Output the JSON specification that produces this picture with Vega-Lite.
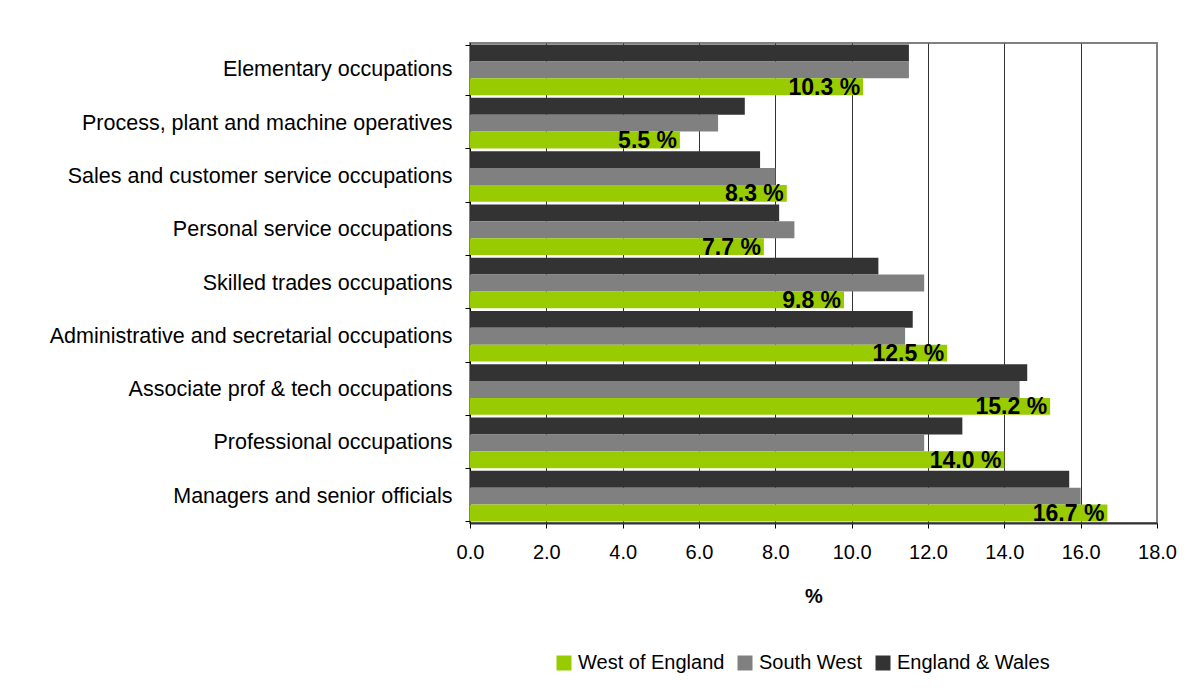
{
  "$schema": "https://vega.github.io/schema/vega-lite/v6.json",
  "autosize": {"type": "none"},
  "width": 687,
  "height": 480,
  "padding": {"left": 470, "top": 43, "right": 39, "bottom": 167},
  "background": "white",
  "config": {
    "font": "Liberation Sans",
    "view": {"stroke": "#808080", "strokeWidth": 2}
  },
  "data": {
    "values": [
      {"occupation": "Elementary occupations", "area": "England & Wales", "value": 11.5},
      {"occupation": "Elementary occupations", "area": "South West", "value": 11.5},
      {"occupation": "Elementary occupations", "area": "West of England", "value": 10.3},
      {"occupation": "Process, plant and machine operatives", "area": "England & Wales", "value": 7.2},
      {"occupation": "Process, plant and machine operatives", "area": "South West", "value": 6.5},
      {"occupation": "Process, plant and machine operatives", "area": "West of England", "value": 5.5},
      {"occupation": "Sales and customer service occupations", "area": "England & Wales", "value": 7.6},
      {"occupation": "Sales and customer service occupations", "area": "South West", "value": 8.0},
      {"occupation": "Sales and customer service occupations", "area": "West of England", "value": 8.3},
      {"occupation": "Personal service occupations", "area": "England & Wales", "value": 8.1},
      {"occupation": "Personal service occupations", "area": "South West", "value": 8.5},
      {"occupation": "Personal service occupations", "area": "West of England", "value": 7.7},
      {"occupation": "Skilled trades occupations", "area": "England & Wales", "value": 10.7},
      {"occupation": "Skilled trades occupations", "area": "South West", "value": 11.9},
      {"occupation": "Skilled trades occupations", "area": "West of England", "value": 9.8},
      {"occupation": "Administrative and secretarial occupations", "area": "England & Wales", "value": 11.6},
      {"occupation": "Administrative and secretarial occupations", "area": "South West", "value": 11.4},
      {"occupation": "Administrative and secretarial occupations", "area": "West of England", "value": 12.5},
      {"occupation": "Associate prof & tech occupations", "area": "England & Wales", "value": 14.6},
      {"occupation": "Associate prof & tech occupations", "area": "South West", "value": 14.4},
      {"occupation": "Associate prof & tech occupations", "area": "West of England", "value": 15.2},
      {"occupation": "Professional occupations", "area": "England & Wales", "value": 12.9},
      {"occupation": "Professional occupations", "area": "South West", "value": 11.9},
      {"occupation": "Professional occupations", "area": "West of England", "value": 14.0},
      {"occupation": "Managers and senior officials", "area": "England & Wales", "value": 15.7},
      {"occupation": "Managers and senior officials", "area": "South West", "value": 16.0},
      {"occupation": "Managers and senior officials", "area": "West of England", "value": 16.7}
    ]
  },
  "encoding": {
    "y": {
      "field": "occupation",
      "type": "nominal",
      "sort": null,
      "scale": {"paddingInner": 0.05, "paddingOuter": 0.03},
      "axis": {
        "title": null,
        "tickBand": "extent",
        "tickSize": 5,
        "tickColor": "#000000",
        "domainColor": "#000000",
        "domainWidth": 1,
        "labelFontSize": 21.5,
        "labelColor": "#000000",
        "labelPadding": 13,
        "labelLimit": 460
      }
    },
    "yOffset": {
      "field": "area",
      "type": "nominal",
      "sort": ["England & Wales", "South West", "West of England"],
      "scale": {"paddingInner": 0, "paddingOuter": 0}
    },
    "x": {
      "field": "value",
      "type": "quantitative",
      "scale": {"domain": [0, 18], "nice": false},
      "axis": {
        "title": "%",
        "titleFontSize": 20,
        "titleFontWeight": "bold",
        "titleColor": "#000000",
        "titlePadding": 24,
        "values": [0, 2, 4, 6, 8, 10, 12, 14, 16, 18],
        "format": ".1f",
        "labelFontSize": 20,
        "labelColor": "#000000",
        "labelPadding": 14,
        "labelFlush": false,
        "tickSize": 5,
        "tickColor": "#000000",
        "domainColor": "#333333",
        "domainWidth": 2,
        "grid": true,
        "gridColor": {"condition": {"test": "datum.value == 18", "value": "#808080"}, "value": "#333333"},
        "gridWidth": 1
      }
    }
  },
  "layer": [
    {
      "mark": {"type": "bar", "cornerRadius": 0},
      "encoding": {
        "color": {
          "field": "area",
          "type": "nominal",
          "scale": {
            "domain": ["West of England", "South West", "England & Wales"],
            "range": ["#99cc00", "#808080", "#333333"]
          },
          "legend": {
            "title": null,
            "orient": "none",
            "direction": "horizontal",
            "legendX": 84,
            "legendY": 610,
            "symbolType": "square",
            "symbolSize": 225,
            "symbolStrokeWidth": 0,
            "symbolOpacity": 1,
            "labelFontSize": 20,
            "labelColor": "#000000",
            "labelOffset": 4,
            "columnPadding": 10
          }
        }
      }
    },
    {
      "transform": [
        {"filter": "datum.area == 'West of England'"},
        {"calculate": "format(datum.value, '.1f') + ' %'", "as": "label"}
      ],
      "mark": {
        "type": "text",
        "align": "right",
        "baseline": "alphabetic",
        "dx": -3,
        "dy": 8,
        "fontSize": 23,
        "fontWeight": "bold",
        "color": "#000000"
      },
      "encoding": {
        "text": {"field": "label"}
      }
    }
  ]
}
